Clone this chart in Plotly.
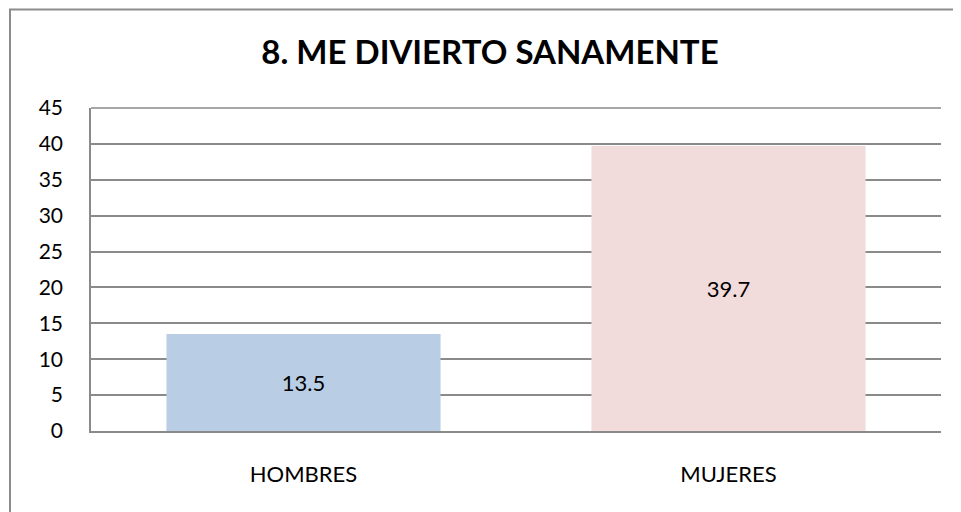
import plotly.graph_objects as go

categories = ["HOMBRES", "MUJERES"]
values = [13.5, 39.7]
bar_colors = ["#b9cde5", "#f2dcdb"]
y_ticks = [0, 5, 10, 15, 20, 25, 30, 35, 40, 45]

FONT = "Lato, Calibri, sans-serif"

fig = go.Figure(go.Bar(
    x=categories, y=values,
    marker=dict(color=bar_colors, line=dict(width=0)),
    width=0.645,
    text=[str(v) for v in values],
    textposition="inside", insidetextanchor="middle",
    textfont=dict(family=FONT, size=22, color="#000000"),
    textangle=0,
    hoverinfo="skip",
))

OFF = 8  # page body offset
W, H = 961, 512
L, T = 91 - OFF, 108 - OFF
R = W + OFF - 941
B = H + OFF - 431
pw, ph = W - L - R, H - T - B

def px_x(p):
    return (p - OFF - L) / pw

def px_y(p):
    return (H - B - (p - OFF)) / ph

fig.update_layout(
    width=W, height=H,
    margin=dict(l=L, r=R, t=T, b=B, pad=0),
    paper_bgcolor="white", plot_bgcolor="white",
    showlegend=False,
    bargap=0.355,
    title=dict(text="<b>8. ME DIVIERTO SANAMENTE</b>", x=(490 - OFF) / W, xanchor="center",
               y=1 - (52 - OFF) / H, yanchor="middle",
               font=dict(family=FONT, size=33, color="#000000")),
    font=dict(family=FONT, color="#000000"),
    shapes=[dict(type="rect", xref="paper", yref="paper",
                 x0=px_x(10), x1=px_x(985), y0=px_y(540), y1=px_y(9.5),
                 line=dict(color="#8c8c8c", width=2), layer="below")],
)
fig.update_xaxes(
    range=[-0.5, 1.5], showgrid=False, showline=True, linecolor="#8a8a8a", linewidth=1.5,
    ticks="", tickfont=dict(family=FONT, size=22, color="#000000"), ticklabelstandoff=23,
    fixedrange=True,
)
fig.update_yaxes(
    range=[0, 45], tickvals=y_ticks, showgrid=True, gridcolor="#8a8a8a", gridwidth=1.5,
    showline=True, linecolor="#8a8a8a", linewidth=1.5, zeroline=False,
    ticks="", tickfont=dict(family=FONT, size=21, color="#000000"), ticklabelstandoff=22,
    fixedrange=True,
)
fig.add_shape(type="line", xref="paper", yref="paper", x0=0, x1=1, y0=1, y1=1,
              line=dict(color="#8a8a8a", width=1.5))

fig.write_html("out.html")
